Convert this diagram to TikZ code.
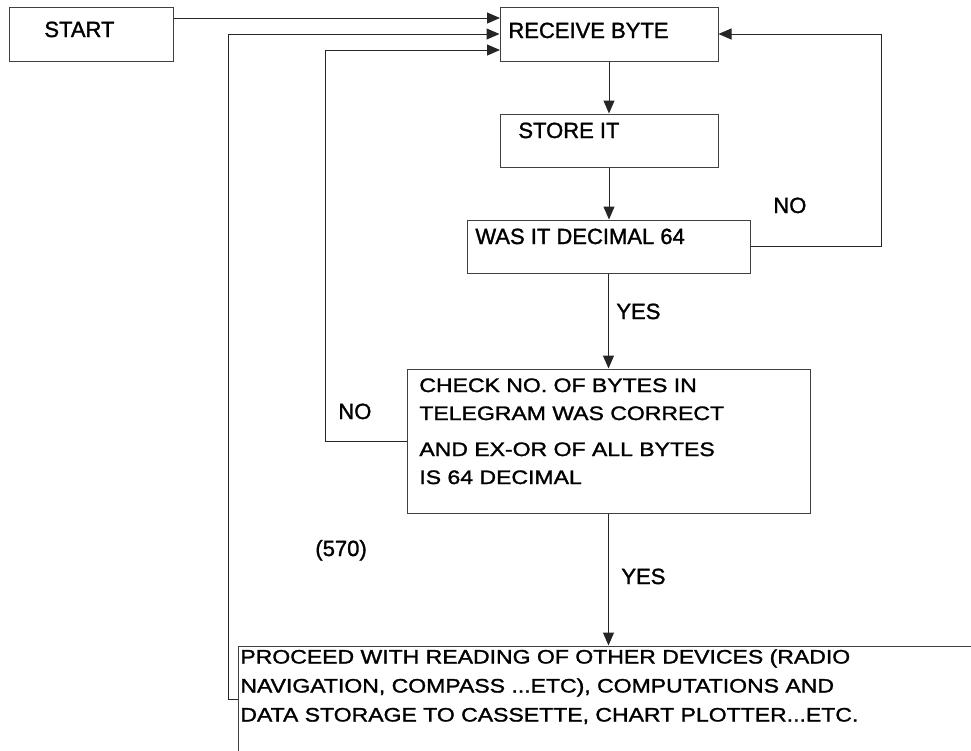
\documentclass[tikz,border=0pt]{standalone}
\usepackage{fontspec}
\setmainfont{Liberation Sans}[FakeBold=1.4]
\newfontfamily\widefont[FakeStretch=1.18,FakeBold=1.4]{Liberation Sans}
\usetikzlibrary{arrows.meta,positioning,fit}

\begin{document}
\begin{tikzpicture}[x=0.5pt, y=-0.5pt,
  box/.style={draw=black!75, line width=0.5pt, inner sep=0pt},
  txt/.style={inner sep=0pt, anchor=base west, font=\fontsize{11}{13}\selectfont},
  wtxt/.style={inner sep=0pt, anchor=north west, align=left, font=\widefont\fontsize{9.75}{14}\selectfont},
  arrow/.style={-{Triangle[length=6.5pt,width=5.5pt]}, line width=0.5pt, black!85}
]
  \useasboundingbox (0,0) rectangle (971,751);
  \clip (0,0) rectangle (971,751);

  % boxes
  \node[box, fit={(9,7) (173,61)}] (start) {};
  \node[box, fit={(500,7) (718,61)}] (recv) {};
  \node[box, fit={(500,114) (718,167)}] (store) {};
  \node[box, fit={(467,220) (750,273)}] (test) {};
  \node[box, fit={(407,369) (810,513)}] (check) {};
  \node[box, fit={(238,646) (1100,820)}] (proceed) {};

  % box texts
  \node[txt] (tstart) at (44,37) {START};
  \node[txt] (trecv) at (508,38) {RECEIVE BYTE};
  \node[txt] (tstore) at (518,138) {STORE IT};
  \node[txt] (ttest) at (475,244) {WAS IT DECIMAL 64};
  \node[wtxt] (tcheck) at (419,378) {CHECK NO. OF BYTES IN\\TELEGRAM WAS CORRECT\\[4pt]AND EX-OR OF ALL BYTES\\IS 64 DECIMAL};
  \node[wtxt, font=\widefont\fontsize{9.75}{14.5}\selectfont] (tproceed) at (240,649) {PROCEED WITH READING OF OTHER DEVICES (RADIO\\NAVIGATION, COMPASS ...ETC), COMPUTATIONS AND\\DATA STORAGE TO CASSETTE, CHART PLOTTER...ETC.};

  % labels
  \node[txt] (no1) at (773,213) {NO};
  \node[txt] (yes1) at (616,319) {YES};
  \node[txt] (no2) at (338,419) {NO};
  \node[txt] (ref) at (315,556) {(570)};
  \node[txt] (yes2) at (621,584) {YES};

  % connectors
  \coordinate (in1) at (500,18);
  \coordinate (in3) at (500,50);
  \draw[arrow] (start.east |- in1) -- (in1);
  \draw[arrow] (proceed.west |- 0,699) -| (228,34) -- (recv.west);
  \draw[arrow] (check.west) -| (325,50) -- (in3);
  \draw[arrow] (test.east) -| (881,34) -- (recv.east);
  \draw[arrow] (recv.south) -- (recv.south |- store.north);
  \draw[arrow] (store.south) -- (store.south |- test.north);
  \draw[arrow] (test.south) -- (test.south |- check.north);
  \draw[arrow] (check.south) -- (check.south |- proceed.north);
\end{tikzpicture}
\end{document}
